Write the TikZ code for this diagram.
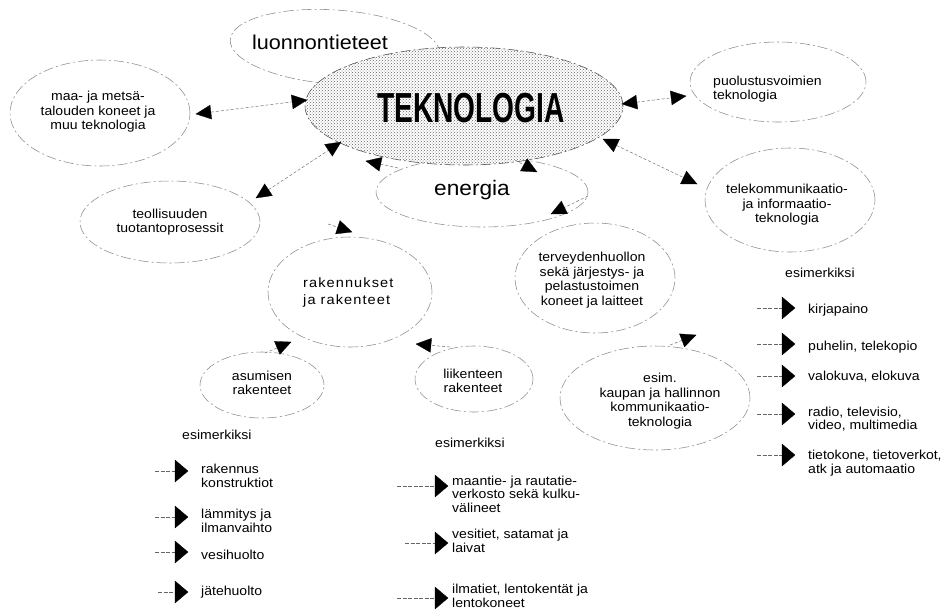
\documentclass[tikz,border=0pt]{standalone}
\usepackage{fontspec}
\setmainfont{Liberation Sans}[FakeStretch=1.08]
\usetikzlibrary{shapes.geometric,arrows.meta,patterns,calc}
\begin{document}
\begin{tikzpicture}[x=1pt,y=-1pt,
  oval/.style={ellipse, draw=black!45, line width=0.55pt, dash pattern=on 10pt off 3pt on 2pt off 3pt, inner sep=0pt},
  lbl/.style={font=\fontsize{13}{14.5}\selectfont, inner sep=0pt, align=center},
  lbll/.style={lbl, align=left, anchor=west},
  item/.style={font=\fontsize{13}{13.5}\selectfont, inner sep=0pt, align=left, anchor=west},
  conn/.style={draw=black!55, line width=0.5pt, dash pattern=on 3pt off 2pt},
  lconn/.style={draw=black!60, line width=0.5pt, dash pattern=on 4pt off 1.5pt},
  hd/.tip={Triangle[length=15pt,width=14pt,color=black,fill=black]},
  tipH/.style={draw=black, fill=black, solid, line width=0.4pt, -hd},
  headfill/.style={fill=black, draw=black, line width=0.3pt, line join=miter}
]
\useasboundingbox (0,0) rectangle (942,614);
\fill[white] (0,0) rectangle (942,614);

% ellipses
\node[oval, minimum width=210pt, minimum height=74pt, rotate=-4] (luon) at (335,47) {};
\node[oval, minimum width=212pt, minimum height=70pt] (ener) at (482,192) {};
\node[oval, minimum width=318pt, minimum height=118pt, draw=black!70,
      preaction={fill=white}, pattern=crosshatch dots, pattern color=black!60] (tek) at (464,106) {};
\node[oval, minimum width=180pt, minimum height=106pt] (maa) at (100,113) {};
\node[oval, minimum width=180pt, minimum height=82pt] (teo) at (170,222) {};
\node[oval, minimum width=176pt, minimum height=80pt] (puol) at (778,82) {};
\node[oval, minimum width=170pt, minimum height=104pt] (tele) at (790,200) {};
\node[oval, minimum width=164pt, minimum height=110pt] (rak) at (350,292) {};
\node[oval, minimum width=160pt, minimum height=110pt] (terv) at (595,278) {};
\node[oval, minimum width=124pt, minimum height=66pt] (asum) at (262,385) {};
\node[oval, minimum width=118pt, minimum height=66pt] (liik) at (474,379) {};
\node[oval, minimum width=190pt, minimum height=104pt] (kaup) at (655,398) {};

% texts
\node[font=\fontsize{20}{22}\selectfont, inner sep=0pt] (luont) at (320,42) {luonnontieteet};
\node[font=\fontsize{42}{42}\selectfont\bfseries, inner sep=0pt] (tekt) at (471,108) {\scalebox{0.62}[1]{TEKNOLOGIA}};
\node[font=\fontsize{21}{22}\selectfont, inner sep=0pt] (enert) at (472,190) {energia};
\node[lbl] (maat) at (98,112) {maa- ja metsä-\\talouden koneet ja\\muu teknologia};
\node[lbl] (teot) at (170,222) {teollisuuden\\tuotantoprosessit};
\node[lbll] (puolt) at (713,89) {puolustusvoimien\\teknologia};
\node[lbl] (telet) at (787,205) {telekommunikaatio-\\ja informaatio-\\teknologia};
\node[lbll, font=\fontsize{13.5}{17}\selectfont\addfontfeature{LetterSpace=8}] (rakt) at (303,293) {rakennukset\\ja rakenteet};
\node[lbl] (tervt) at (592,280) {terveydenhuollon\\sekä järjestys- ja\\pelastustoimen\\koneet ja laitteet};
\node[lbl] (asumt) at (262,383) {asumisen\\rakenteet};
\node[lbl] (liikt) at (473,381) {liikenteen\\rakenteet};
\node[lbl] (kaupt) at (660,401) {esim.\\kaupan ja hallinnon\\kommunikaatio-\\teknologia};

% connectors between ellipses
\coordinate (a1s) at (196,114); \coordinate (a1e) at (307,100);
\coordinate (a2s) at (256,198); \coordinate (a2e) at (341,142);
\coordinate (a3s) at (398,168); \coordinate (a3e) at (366,161);
\coordinate (a4s) at (515,160); \coordinate (a4e) at (537,172);
\coordinate (a5s) at (622,104); \coordinate (a5e) at (686,96);
\coordinate (a6s) at (603,139); \coordinate (a6e) at (697,184);
\coordinate (a7s) at (588,196); \coordinate (a7e) at (551,214);
\coordinate (a8s) at (328,224); \coordinate (a8e) at (352,232);
\coordinate (a9s) at (265,353); \coordinate (a9e) at (291,342);
\coordinate (a10s) at (450,347); \coordinate (a10e) at (416,344);
\coordinate (a11s) at (670,345); \coordinate (a11e) at (696,335);
\foreach \a in {a1,a2,a3,a4,a5,a6,a7,a8,a9,a10,a11}{
  \draw[conn] (\a s) -- (\a e);
  \filldraw[headfill] (\a e) -- ($(\a e)!15pt!(\a s)!7pt!90:(\a e)$) -- ($(\a e)!15pt!(\a s)!7pt!-90:(\a e)$) -- cycle;
}
\foreach \a in {a1,a2,a5,a6}{
  \filldraw[headfill] (\a s) -- ($(\a s)!15pt!(\a e)!7pt!90:(\a s)$) -- ($(\a s)!15pt!(\a e)!7pt!-90:(\a s)$) -- cycle;
}

% example lists
\node[item] (ex1) at (182,435) {esimerkiksi};
\node[item] (ex2) at (435,443) {esimerkiksi};
\node[item] (ex3) at (785,273) {esimerkiksi};

% left list
\node[item] (l1) at (201,476) {rakennus\\konstruktiot};
\node[item] (l2) at (201,521) {lämmitys ja\\ilmanvaihto};
\node[item] (l3) at (201,555) {vesihuolto};
\node[item] (l4) at (201,592) {jätehuolto};
\coordinate (l1a) at (155,471); \coordinate (l1b) at (188,471);
\coordinate (l2a) at (155,517); \coordinate (l2b) at (188,517);
\coordinate (l3a) at (155,552); \coordinate (l3b) at (188,552);
\coordinate (l4a) at (158,592); \coordinate (l4b) at (188,592);

% middle list
\node[item] (m1) at (452,494) {maantie- ja rautatie-\\verkosto sekä kulku-\\välineet};
\node[item] (m2) at (452,541) {vesitiet, satamat ja\\laivat};
\node[item] (m3) at (452,596) {ilmatiet, lentokentät ja\\lentokoneet};
\coordinate (m1a) at (397,486); \coordinate (m1b) at (448,486);
\coordinate (m2a) at (405,543); \coordinate (m2b) at (448,543);
\coordinate (m3a) at (397,598); \coordinate (m3b) at (448,598);

% right list
\node[item] (r1) at (808,310) {kirjapaino};
\node[item] (r2) at (808,347) {puhelin, telekopio};
\node[item] (r3) at (808,377) {valokuva, elokuva};
\node[item] (r4) at (808,419) {radio, televisio,\\video, multimedia};
\node[item] (r5) at (808,463) {tietokone, tietoverkot,\\atk ja automaatio};
\coordinate (r1a) at (757,308); \coordinate (r1b) at (795,308);
\coordinate (r2a) at (757,344); \coordinate (r2b) at (795,344);
\coordinate (r3a) at (757,376); \coordinate (r3b) at (795,376);
\coordinate (r4a) at (757,414); \coordinate (r4b) at (795,414);
\coordinate (r5a) at (757,455); \coordinate (r5b) at (795,455);

\foreach \p in {l1,l2,l3,l4,m1,m2,m3,r1,r2,r3,r4,r5}{
  \draw[lconn] (\p a) -- ($(\p b)+(-12,0)$);
  \filldraw[headfill] (\p b) -- ++(-13,-11) -- ++(0,22) -- cycle;
}
\end{tikzpicture}
\end{document}
